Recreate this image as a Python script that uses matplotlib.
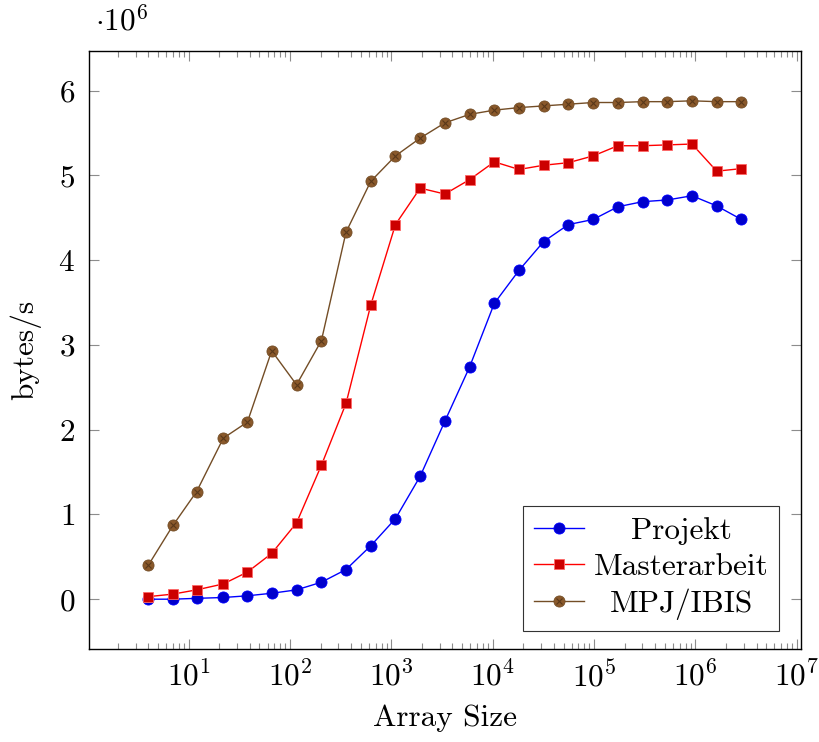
import numpy as np
import matplotlib.pyplot as plt
from matplotlib.ticker import LogLocator, FixedLocator
from matplotlib.legend_handler import HandlerTuple
from matplotlib.transforms import Affine2D

# computer modern look like the pgfplots original
plt.rcParams['font.family'] = 'serif'
plt.rcParams['font.serif'] = ['cmr10']
plt.rcParams['mathtext.fontset'] = 'cm'
plt.rcParams['axes.formatter.use_mathtext'] = True

# array sizes (x axis, log scale)
array_size = [4, 7, 12, 22, 38, 66, 116, 204, 357, 626, 1097, 1923, 3371, 5910,
              10360, 18160, 31830, 55800, 97820, 171500, 300600, 527000, 923700,
              1619000, 2838000]

# throughput in 10^6 bytes/s
projekt = [0.0, 0.0, 0.01, 0.02, 0.04, 0.07, 0.11, 0.20, 0.35, 0.63, 0.95, 1.45,
           2.10, 2.74, 3.49, 3.88, 4.22, 4.42, 4.48, 4.63, 4.69, 4.71, 4.76, 4.64, 4.48]
masterarbeit = [0.03, 0.06, 0.11, 0.18, 0.32, 0.54, 0.90, 1.58, 2.31, 3.47, 4.42, 4.85,
                4.78, 4.95, 5.16, 5.07, 5.12, 5.15, 5.23, 5.35, 5.35, 5.36, 5.37, 5.05, 5.08]
mpj_ibis = [0.40, 0.87, 1.27, 1.90, 2.09, 2.93, 2.53, 3.05, 4.33, 4.93, 5.23, 5.44,
            5.62, 5.72, 5.77, 5.80, 5.82, 5.84, 5.86, 5.86, 5.87, 5.87, 5.88, 5.87, 5.87]

labels = ["Projekt", "Masterarbeit", "MPJ/IBIS"]

fs = 22.5

fig = plt.figure(figsize=(8.2, 7.42), dpi=100)
ax = fig.add_axes([0.1085, 0.1253, 0.868, 0.806])

brown_line = (0.45, 0.30, 0.15)
brown_fill = (0.54, 0.35, 0.17)

l1, = ax.plot(array_size, projekt, color='blue', lw=1.0, marker='o', ms=8.0,
              mfc=(0, 0, 0.8), mec='blue', mew=0.6)
l2, = ax.plot(array_size, masterarbeit, color='red', lw=1.0, marker='s', ms=7.8,
              mfc=(0.8, 0, 0), mec=(1, 0.4, 0.4), mew=0.6)
l3, = ax.plot(array_size, mpj_ibis, color=brown_line, lw=1.0, marker='o', ms=8.0,
              mfc=brown_fill, mec=brown_line, mew=0.6)
l3x, = ax.plot(array_size, mpj_ibis, ls='none', marker='x', ms=4.8,
               mec=(0.35, 0.22, 0.1), mew=0.8)

ax.set_xscale('log')
# pgfplots style: enlarge limits by 10% of data range
lx = np.log10([min(array_size), max(array_size)])
dx = (lx[1] - lx[0]) * 0.1
ax.set_xlim(10 ** (lx[0] - dx), 10 ** (lx[1] + dx))
ally = projekt + masterarbeit + mpj_ibis
dy = (max(ally) - min(ally)) * 0.1
ax.set_ylim(min(ally) - dy, max(ally) + dy)

ax.xaxis.set_major_locator(FixedLocator([10.0 ** k for k in range(1, 8)]))
ax.xaxis.set_minor_locator(LogLocator(base=10, subs=np.arange(2, 10), numticks=20))
ax.yaxis.set_major_locator(FixedLocator(range(0, 7)))
ax.yaxis.set_minor_locator(FixedLocator([]))

ax.tick_params(which='both', direction='in', top=True, right=True,
               color='0.55', labelsize=fs, width=0.8)
ax.tick_params(which='major', length=7)
ax.tick_params(axis='x', which='major', pad=8)
ax.tick_params(axis='y', which='major', pad=10)
ax.tick_params(which='minor', length=4)
for s in ax.spines.values():
    s.set_linewidth(1.0)

ax.set_xlabel("Array Size", fontsize=fs, labelpad=8)
ax.set_ylabel("bytes/s", fontsize=fs, labelpad=12)
fig.text(95 / 820, 1 - 22 / 742, r'$\cdot 10^6$', fontsize=fs, va='center', ha='left')

leg = ax.legend([l1, l2, (l3, l3x)], labels, loc='lower right',
                bbox_to_anchor=(0.97, 0.03), borderaxespad=0, fontsize=fs,
                fancybox=False, edgecolor='0.2', framealpha=1, handlelength=1.6,
                handletextpad=0.3, labelspacing=0.25, borderpad=0.35,
                handler_map={tuple: HandlerTuple(ndivide=1, pad=0)})
leg.get_frame().set_linewidth(0.8)

# center legend texts like pgfplots does
fig.canvas.draw()
r = fig.canvas.get_renderer()
texts = leg.get_texts()
widths = [t.get_window_extent(r).width for t in texts]
for t, w in zip(texts, widths):
    t.set_transform(t.get_transform() + Affine2D().translate((max(widths) - w) / 2, 0))

fig.savefig("out.png", dpi=100)
